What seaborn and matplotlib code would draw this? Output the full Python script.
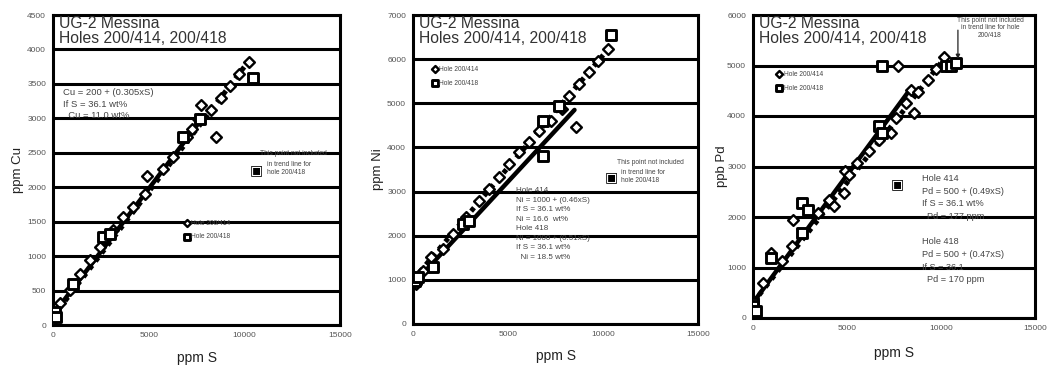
import numpy as np
import pandas as pd
import matplotlib
matplotlib.use("Agg")
import matplotlib.pyplot as plt
import seaborn as sns

# ---------------- data ----------------
cu414_s = [0, 87, 350, 874, 1398, 1923, 2447, 3146, 3671, 4195, 4807, 4894, 5768, 6293,
           6992, 7254, 7604, 7744, 8268, 8530, 8757, 9230, 9737, 10226]
cu414 = [72, 169, 313, 506, 747, 940, 1133, 1374, 1566, 1711, 1904, 2169, 2265, 2434,
         2723, 2844, 2988, 3196, 3123, 2723, 3292, 3470, 3639, 3822]
cu418_s = [87, 175, 1049, 2622, 2972, 6817, 7691, 10453]
cu418 = [193, 120, 602, 1277, 1325, 2723, 2988, 3581]

ni414_s = [0, 175, 524, 961, 1573, 2098, 2797, 3496, 4020, 4545, 5069, 5594, 6118, 6642,
           7254, 7831, 8216, 8565, 8740, 9264, 9754, 10278]
ni414 = [981, 906, 1208, 1509, 1698, 2038, 2415, 2792, 3057, 3321, 3623, 3887, 4113, 4377,
         4604, 4868, 5170, 4453, 5434, 5698, 5962, 6226]
ni418_s = [87, 262, 1049, 2622, 2972, 6817, 6817, 7691, 10400]
ni418 = [981, 1057, 1283, 2264, 2340, 4604, 3811, 4943, 6551]

pd414_s = [0, 536, 982, 1518, 2054, 2143, 3483, 4018, 4286, 4822, 4912, 5090, 5537, 6162,
           6697, 7322, 7590, 7733, 8126, 8394, 8573, 8751, 9287, 9734, 10180]
pd414 = [330, 693, 1286, 1121, 1418, 1946, 2078, 2342, 2210, 2473, 2902, 2836, 3067, 3298,
         3529, 3661, 3958, 5000, 4254, 4518, 4057, 4485, 4716, 4934, 5178]
pd418_s = [0, 0, 179, 982, 2590, 2590, 2947, 6697, 6876, 6840, 10268, 10536, 10800]
pd418 = [297, 231, 132, 1187, 2276, 1682, 2144, 3793, 3661, 5000, 5000, 5000, 5046]

# trend lines (end points)
cu_fit_s, cu_fit = [0, 7800], [150, 3000]
cu_dot_s, cu_dot = [0, 10200], [120, 3820]
ni_fit_s, ni_fit = [0, 8500], [900, 4850]
ni_dot_s, ni_dot = [0, 10300], [1000, 6240]
pd_fit_s, pd_fit = [0, 8400], [300, 4550]
pd_dot_s, pd_dot = [0, 10200], [300, 5150]

# arrow of the panel-3 note: points at the excluded point
pd_arrow_s, pd_arrow_from, pd_arrow_to = 10900, 5700, 5130

x_ticks = [0, 2500, 5000, 7500, 10000, 12500, 15000]
x_ticklabels = ["0", "", "5000", "", "10000", "", "15000"]

title_text = "UG-2 Messina\nHoles 200/414, 200/418"
legend_labels = ["Hole 200/414", "Hole 200/418"]
excl_line1 = "This point not included"
excl_rest = "in trend line for\nhole 200/418"
excl_text3 = "This point not included\nin trend line for hole\n200/418"
cu_eq = "Cu = 200 + (0.305xS)\nIf S = 36.1 wt%\n  Cu = 11.0 wt%"
ni_eq = ("Hole 414\nNi = 1000 + (0.46xS)\nIf S = 36.1 wt%\nNi = 16.6  wt%\n"
         "Hole 418\nNi = 1000 + (0.51xS)\nIf S = 36.1 wt%\n  Ni = 18.5 wt%")
pd_eq = ("Hole 414\nPd = 500 + (0.49xS)\nIf S = 36.1 wt%\n  Pd = 177 ppm\n\n"
         "Hole 418\nPd = 500 + (0.47xS)\nIf S = 36.1\n  Pd = 170 ppm")

# ---------------- style ----------------
sns.set_style("white")
plt.rcParams["font.family"] = ["Liberation Sans", "DejaVu Sans"]

fig = plt.figure(figsize=(10.48, 3.75), dpi=100)
W, H = 1048, 375
TXT = "#444444"


def make_ax(l, r, t, b):
    return fig.add_axes([l / W, (H - b) / H, (r - l) / W, (b - t) / H])


panels = [
    dict(box=(53, 340, 15, 325), ymax=4500, ystep=500, ylabel="ppm Cu",
         d414=(cu414_s, cu414), d418=(cu418_s, cu418),
         fit=(cu_fit_s, cu_fit), dot=(cu_dot_s, cu_dot),
         ylab_x=-0.1, xlab_y=-0.084, leg=(0.458, 0.34)),
    dict(box=(413, 698, 15, 324), ymax=7000, ystep=1000, ylabel="ppm Ni",
         d414=(ni414_s, ni414), d418=(ni418_s, ni418),
         fit=(ni_fit_s, ni_fit), dot=(ni_dot_s, ni_dot),
         ylab_x=-0.1, xlab_y=-0.081, leg=(0.068, 0.835)),
    dict(box=(753, 1035, 15, 318), ymax=6000, ystep=1000, ylabel="ppb Pd",
         d414=(pd414_s, pd414), d418=(pd418_s, pd418),
         fit=(pd_fit_s, pd_fit), dot=(pd_dot_s, pd_dot),
         ylab_x=-0.088, xlab_y=-0.092, leg=(0.085, 0.815)),
]

axes = []
for p in panels:
    ax = make_ax(*p["box"])
    axes.append(ax)
    yt = np.arange(0, p["ymax"] + 1, p["ystep"])
    for yv in yt:
        ax.axhline(yv, color="black", lw=2.2, zorder=1)
    sns.lineplot(x=p["dot"][0], y=p["dot"][1], ax=ax, color="black", lw=3.6,
                 linestyle=(0, (0.9, 1.1)), zorder=3, legend=False)
    sns.lineplot(x=p["fit"][0], y=p["fit"][1], ax=ax, color="black", lw=3.2,
                 zorder=3, legend=False)
    sns.scatterplot(x=p["d414"][0], y=p["d414"][1], ax=ax, marker="D", s=30,
                    facecolor="white", edgecolor="black", linewidth=1.7, zorder=4,
                    label=legend_labels[0])
    sns.scatterplot(x=p["d418"][0], y=p["d418"][1], ax=ax, marker="s", s=46,
                    facecolor="white", edgecolor="black", linewidth=2.1, zorder=4,
                    label=legend_labels[1])
    ax.set_xlim(0, 15000)
    ax.set_ylim(0, p["ymax"])
    ax.set_xticks(x_ticks)
    ax.set_xticklabels(x_ticklabels)
    ax.set_yticks(yt)
    ax.set_yticklabels([str(int(v)) for v in yt])
    ax.tick_params(axis="both", direction="out", length=3, width=1.5, color="black",
                   labelsize=6, labelcolor="#555555", pad=2)
    for sp in ax.spines.values():
        sp.set_linewidth(2.2)
        sp.set_color("black")
    ax.set_xlabel("ppm S", fontsize=10, color="#222222")
    ax.set_ylabel(p["ylabel"], fontsize=9.5, color="#222222")
    ax.yaxis.set_label_coords(p["ylab_x"], 0.5)
    ax.xaxis.set_label_coords(0.5, p["xlab_y"])
    ax.text(0.022, 0.997, title_text, transform=ax.transAxes, ha="left", va="top",
            fontsize=11.3, color="#333333", linespacing=1.0, zorder=6)
    ax.legend(loc="upper left", bbox_to_anchor=p["leg"], frameon=False,
              fontsize=4.8, handlelength=0.7, handletextpad=0.3, markerscale=0.65,
              labelspacing=1.0, borderpad=0, borderaxespad=0, labelcolor=TXT)

# panel 1 annotations
a1 = axes[0]
a1.text(0.035, 0.765, cu_eq, transform=a1.transAxes, ha="left", va="top",
        fontsize=6.8, color=TXT, linespacing=1.4, zorder=6)
a1.text(0.836, 0.565, excl_line1, transform=a1.transAxes, ha="center", va="top",
        fontsize=4.8, color=TXT, zorder=6)
a1.text(0.745, 0.528, excl_rest, transform=a1.transAxes, ha="left", va="top",
        fontsize=4.8, color=TXT, linespacing=1.2, zorder=6)
a1.text(0.709, 0.5, "\u25a3", transform=a1.transAxes, ha="center", va="center",
        fontsize=10, family="DejaVu Sans", color="black", zorder=6)

# panel 2 annotations
a2 = axes[1]
a2.text(0.36, 0.443, ni_eq, transform=a2.transAxes, ha="left", va="top",
        fontsize=5.8, color=TXT, linespacing=1.5, zorder=6)
a2.text(0.832, 0.535, excl_line1, transform=a2.transAxes, ha="center", va="top",
        fontsize=4.8, color=TXT, zorder=6)
a2.text(0.73, 0.5, excl_rest, transform=a2.transAxes, ha="left", va="top",
        fontsize=4.8, color=TXT, linespacing=1.2, zorder=6)
a2.text(0.695, 0.476, "\u25a3", transform=a2.transAxes, ha="center", va="center",
        fontsize=10, family="DejaVu Sans", color="black", zorder=6)

# panel 3 annotations
a3 = axes[2]
a3.text(0.84, 0.995, excl_text3, transform=a3.transAxes, ha="center", va="top",
        fontsize=4.8, color=TXT, linespacing=1.1, zorder=6)
a3.annotate("", xy=(pd_arrow_s, pd_arrow_to), xytext=(pd_arrow_s, pd_arrow_from),
            arrowprops=dict(arrowstyle="-|>", color="#222222", lw=0.9,
                            mutation_scale=6, shrinkA=0, shrinkB=0), zorder=6)
a3.text(0.6, 0.475, pd_eq, transform=a3.transAxes, ha="left", va="top",
        fontsize=6.6, color=TXT, linespacing=1.52, zorder=6)
a3.text(0.511, 0.44, "\u25a3", transform=a3.transAxes, ha="center", va="center",
        fontsize=10, family="DejaVu Sans", color="black", zorder=6)

fig.savefig("out.png", dpi=100)
